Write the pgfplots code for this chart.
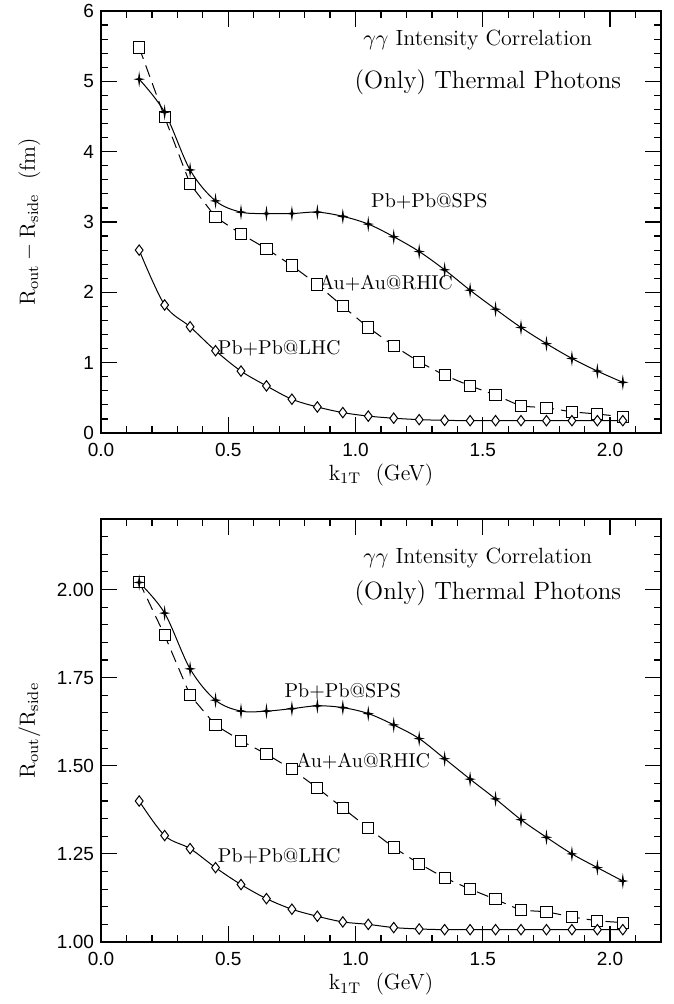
\documentclass[border=0pt]{standalone}
\usepackage{fontspec}
\setsansfont{Liberation Sans}
\usepackage{pgfplots}
\pgfplotsset{compat=1.18}

% four pointed star used for the SPS curve
\pgfdeclareplotmark{fourstar}{%
  \pgfpathmoveto{\pgfpoint{0pt}{1.4\pgfplotmarksize}}%
  \pgfpathlineto{\pgfpoint{0.18\pgfplotmarksize}{0.18\pgfplotmarksize}}%
  \pgfpathlineto{\pgfpoint{\pgfplotmarksize}{0pt}}%
  \pgfpathlineto{\pgfpoint{0.18\pgfplotmarksize}{-0.18\pgfplotmarksize}}%
  \pgfpathlineto{\pgfpoint{0pt}{-1.4\pgfplotmarksize}}%
  \pgfpathlineto{\pgfpoint{-0.18\pgfplotmarksize}{-0.18\pgfplotmarksize}}%
  \pgfpathlineto{\pgfpoint{-\pgfplotmarksize}{0pt}}%
  \pgfpathlineto{\pgfpoint{-0.18\pgfplotmarksize}{0.18\pgfplotmarksize}}%
  \pgfpathclose\pgfusepathqfillstroke}

\pgfplotstableread{
x     sps   rhic  lhc
0.15  5.03  5.48  2.60
0.25  4.56  4.49  1.82
0.35  3.74  3.54  1.51
0.45  3.30  3.07  1.17
0.55  3.14  2.83  0.88
0.65  3.12  2.62  0.67
0.75  3.12  2.38  0.48
0.85  3.14  2.11  0.37
0.95  3.08  1.80  0.29
1.05  2.97  1.50  0.24
1.15  2.79  1.24  0.21
1.25  2.58  1.01  0.19
1.35  2.32  0.82  0.18
1.45  2.03  0.67  0.175
1.55  1.76  0.54  0.175
1.65  1.50  0.38  0.175
1.75  1.27  0.36  0.175
1.85  1.06  0.30  0.175
1.95  0.88  0.27  0.175
2.05  0.72  0.23  0.175
}\diffdata

\pgfplotstableread{
x     sps    rhic   lhc
0.15  2.020  2.022  1.400
0.25  1.933  1.870  1.302
0.35  1.775  1.700  1.265
0.45  1.686  1.615  1.211
0.55  1.655  1.571  1.163
0.65  1.655  1.533  1.123
0.75  1.662  1.490  1.093
0.85  1.670  1.437  1.073
0.95  1.665  1.380  1.057
1.05  1.648  1.323  1.050
1.15  1.616  1.268  1.041
1.25  1.577  1.222  1.037
1.35  1.520  1.182  1.035
1.45  1.462  1.150  1.035
1.55  1.406  1.121  1.035
1.65  1.347  1.090  1.035
1.75  1.297  1.086  1.035
1.85  1.250  1.071  1.035
1.95  1.211  1.060  1.035
2.05  1.173  1.055  1.035
}\ratiodata

\pgfplotsset{
  panel/.style={
    scale only axis, width=280pt,
    xmin=0, xmax=2.2,
    xtick={0,0.5,1,1.5,2},
    minor xtick={0.1,0.2,0.3,0.4,0.6,0.7,0.8,0.9,1.1,1.2,1.3,1.4,1.6,1.7,1.8,1.9,2.1},
    tick pos=both, tick align=inside,
    major tick length=8pt, minor tick length=3.5pt,
    every tick/.style={black, line width=0.6pt},
    axis line style={line width=0.8pt},
    /pgf/number format/assume math mode=true,
    ticklabel style={font=\sffamily\fontsize{9.5}{11}\selectfont},
    xticklabel style={yshift=-1.5pt, /pgf/number format/.cd, fixed, fixed zerofill, precision=1},
    xlabel={$\mathrm{k_{1T}}$\ \ (GeV)},
    label style={font=\fontsize{11}{13}\selectfont},
    xlabel style={at={(axis description cs:0.5,-0.1)}, anchor=center},
    ylabel style={at={(axis description cs:-0.128,0.5)}, anchor=center},
    clip=false,
  },
  sps/.style={black, line width=0.5pt, smooth, tension=0.55, mark=fourstar, mark size=1.9pt,
    mark options={line width=0.4pt}},
  rhic/.style={black, line width=0.5pt, dash pattern=on 6pt off 3.5pt,
    mark=square*, mark size=2.8pt, mark options={solid, fill=white, line width=0.5pt}},
  lhc/.style={black, line width=0.5pt, smooth, tension=0.55,
    mark=diamond*, mark size=2.6pt, mark options={fill=white, line width=0.5pt}},
}

\begin{document}
\begin{tikzpicture}
\useasboundingbox (-50.5pt,5.5pt) rectangle (286pt,-496.5pt);

\begin{axis}[panel, height=211pt, at={(0pt,0pt)}, anchor=north west,
    ymin=0, ymax=6, ytick={0,1,2,3,4,5,6},
    minor ytick={0.2,0.4,0.6,0.8,1.2,1.4,1.6,1.8,2.2,2.4,2.6,2.8,3.2,3.4,3.6,3.8,4.2,4.4,4.6,4.8,5.2,5.4,5.6,5.8},
    ylabel={$\mathrm{R_{out}}-\mathrm{R_{side}}$\ \ (fm)}]
  \addplot[rhic] table[x=x, y=rhic] {\diffdata};
  \addplot[sps]  table[x=x, y=sps]  {\diffdata};
  \addplot[lhc]  table[x=x, y=lhc]  {\diffdata};
  \node[font=\fontsize{11}{13}\selectfont] at (axis cs:1.48,5.59) {$\gamma\gamma$ Intensity Correlation};
  \node[font=\fontsize{12.5}{14}\selectfont] at (axis cs:1.52,4.98) {(Only) Thermal Photons};
  \node[font=\fontsize{10}{12}\selectfont] at (axis cs:1.29,3.29) {Pb+Pb@SPS};
  \node[font=\fontsize{10}{12}\selectfont] at (axis cs:1.12,2.13) {Au+Au@RHIC};
  \node[font=\fontsize{10}{12}\selectfont] at (axis cs:0.70,1.20) {Pb+Pb@LHC};
\end{axis}

\begin{axis}[panel, height=211.5pt, at={(0pt,-254pt)}, anchor=north west,
    ymin=1, ymax=2.2, ytick={1,1.25,1.5,1.75,2},
    minor ytick={1.05,1.1,1.15,1.2,1.3,1.35,1.4,1.45,1.55,1.6,1.65,1.7,1.8,1.85,1.9,1.95,2.05,2.1,2.15},
    yticklabel style={/pgf/number format/.cd, fixed, fixed zerofill, precision=2},
    ylabel={$\mathrm{R_{out}}/\mathrm{R_{side}}$}]
  \addplot[rhic] table[x=x, y=rhic] {\ratiodata};
  \addplot[sps]  table[x=x, y=sps]  {\ratiodata};
  \addplot[lhc]  table[x=x, y=lhc]  {\ratiodata};
  \node[font=\fontsize{11}{13}\selectfont] at (axis cs:1.48,2.09) {$\gamma\gamma$ Intensity Correlation};
  \node[font=\fontsize{12.5}{14}\selectfont] at (axis cs:1.52,1.99) {(Only) Thermal Photons};
  \node[font=\fontsize{10}{12}\selectfont] at (axis cs:0.95,1.712) {Pb+Pb@SPS};
  \node[font=\fontsize{10}{12}\selectfont] at (axis cs:1.03,1.514) {Au+Au@RHIC};
  \node[font=\fontsize{10}{12}\selectfont] at (axis cs:0.70,1.243) {Pb+Pb@LHC};
\end{axis}
\end{tikzpicture}
\end{document}
